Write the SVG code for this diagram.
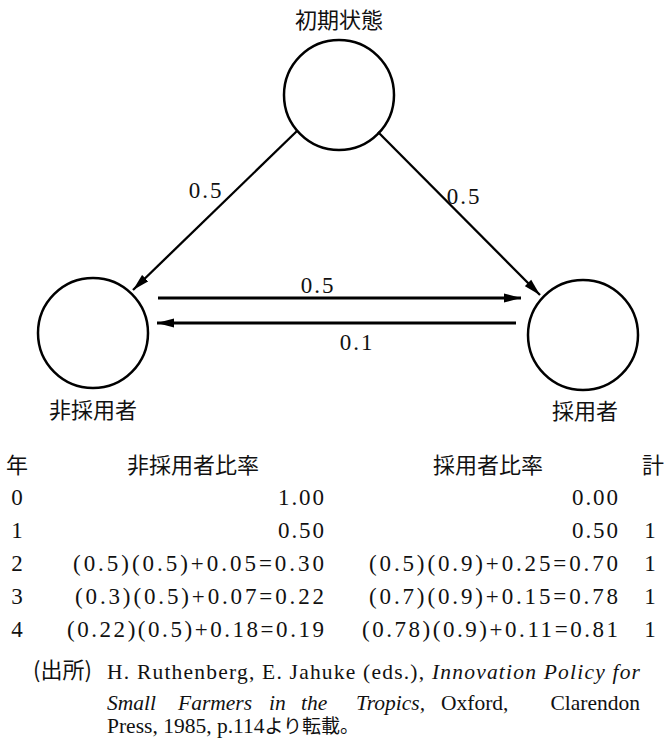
<svg xmlns="http://www.w3.org/2000/svg" width="668" height="738" viewBox="0 0 668 738">
<style>
.node{fill:none;stroke:#000;stroke-width:2.5}
.edge{fill:none;stroke:#000;stroke-width:2.3}
.jp{font-family:"Noto Sans CJK JP",sans-serif;font-size:22px;fill:#111}
.num{font-family:"Liberation Serif","Times New Roman",serif;font-size:23px;fill:#111}
.fn{font-family:"Liberation Serif","Noto Sans CJK JP",serif;font-size:21.5px;fill:#111}
.it{font-style:italic}
</style>
<defs>
<marker id="ah" markerUnits="userSpaceOnUse" markerWidth="18" markerHeight="10" refX="17" refY="5" orient="auto">
<path d="M0,0.5 L17,5 L0,9.5 z" fill="#000"/>
</marker>
</defs>
<rect width="668" height="738" fill="#fff"/>
<g id="initial">
<circle class="node" cx="339" cy="95" r="55"/>
<text class="jp" x="339" y="28" text-anchor="middle">初期状態</text>
</g>
<g id="nonadopter">
<circle class="node" cx="93" cy="333" r="55"/>
<text class="jp" x="93" y="418" text-anchor="middle">非採用者</text>
</g>
<g id="adopter">
<circle class="node" cx="583" cy="335" r="55"/>
<text class="jp" x="585" y="419" text-anchor="middle">採用者</text>
</g>
<g id="connectors">
<line class="edge" x1="297" y1="131" x2="133" y2="290" marker-end="url(#ah)"/>
<line class="edge" x1="378" y1="132" x2="540" y2="295" marker-end="url(#ah)"/>
<line class="edge" x1="158" y1="298" x2="521" y2="298" marker-end="url(#ah)" style="stroke-width:2.8"/>
<line class="edge" x1="516" y1="323" x2="157" y2="323" marker-end="url(#ah)" style="stroke-width:2.8"/>
<text class="num" x="206" y="198" text-anchor="middle" letter-spacing="2">0.5</text>
<text class="num" x="464" y="204" text-anchor="middle" letter-spacing="2">0.5</text>
<text class="num" x="318" y="293" text-anchor="middle" letter-spacing="2">0.5</text>
<text class="num" x="357" y="350" text-anchor="middle" letter-spacing="2">0.1</text>
</g>
<g id="table">
<text class="jp" x="17" y="473" text-anchor="middle">年</text>
<text class="jp" x="193" y="473" text-anchor="middle">非採用者比率</text>
<text class="jp" x="488" y="473" text-anchor="middle">採用者比率</text>
<text class="jp" x="653" y="473" text-anchor="middle">計</text>

<text class="num" x="17" y="505" text-anchor="middle">0</text>
<text class="num" x="324" y="505" text-anchor="end" textLength="46" lengthAdjust="spacing">1.00</text>
<text class="num" x="618" y="505" text-anchor="end" textLength="46" lengthAdjust="spacing">0.00</text>

<text class="num" x="17" y="538" text-anchor="middle">1</text>
<text class="num" x="324" y="538" text-anchor="end" textLength="46" lengthAdjust="spacing">0.50</text>
<text class="num" x="618" y="538" text-anchor="end" textLength="46" lengthAdjust="spacing">0.50</text>
<text class="num" x="650" y="538" text-anchor="middle">1</text>

<text class="num" x="17" y="571" text-anchor="middle">2</text>
<text class="num" x="324" y="571" text-anchor="end" textLength="251" lengthAdjust="spacing">(0.5)(0.5)+0.05=0.30</text>
<text class="num" x="618" y="571" text-anchor="end" textLength="249" lengthAdjust="spacing">(0.5)(0.9)+0.25=0.70</text>
<text class="num" x="650" y="571" text-anchor="middle">1</text>

<text class="num" x="17" y="604" text-anchor="middle">3</text>
<text class="num" x="324" y="604" text-anchor="end" textLength="249" lengthAdjust="spacing">(0.3)(0.5)+0.07=0.22</text>
<text class="num" x="618" y="604" text-anchor="end" textLength="249" lengthAdjust="spacing">(0.7)(0.9)+0.15=0.78</text>
<text class="num" x="650" y="604" text-anchor="middle">1</text>

<text class="num" x="17" y="637" text-anchor="middle">4</text>
<text class="num" x="324" y="637" text-anchor="end" textLength="257" lengthAdjust="spacing">(0.22)(0.5)+0.18=0.19</text>
<text class="num" x="618" y="637" text-anchor="end" textLength="256" lengthAdjust="spacing">(0.78)(0.9)+0.11=0.81</text>
<text class="num" x="650" y="637" text-anchor="middle">1</text>
</g>
<g id="footnote">
<text class="jp" x="33" y="678" font-size="20">(出所)</text>
<text class="fn" x="107" y="679" textLength="533" lengthAdjust="spacing">H. Ruthenberg, E. Jahuke (eds.), <tspan class="it">Innovation Policy for</tspan></text>
<text class="fn it" x="107" y="710">Small</text>
<text class="fn it" x="178" y="710">Farmers</text>
<text class="fn it" x="269" y="710">in</text>
<text class="fn it" x="301" y="710">the</text>
<text class="fn it" x="356" y="710">Tropics,</text>
<text class="fn" x="441" y="710">Oxford,</text>
<text class="fn" x="640" y="710" text-anchor="end">Clarendon</text>
<text class="fn" x="107" y="733">Press, 1985, p.114<tspan font-size="19">より転載。</tspan></text>
</g>
</svg>
